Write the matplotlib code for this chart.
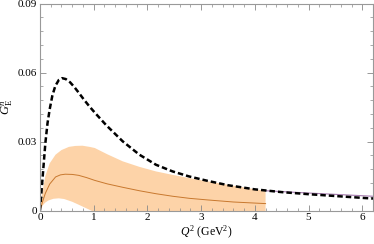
import matplotlib
matplotlib.use("Agg")
import matplotlib.pyplot as plt
import numpy as np
from matplotlib.ticker import MultipleLocator

plt.rcParams['font.family'] = ['Liberation Serif', 'DejaVu Serif']
plt.rcParams['mathtext.fontset'] = 'custom'
plt.rcParams['mathtext.rm'] = 'Liberation Serif'
plt.rcParams['mathtext.it'] = 'Liberation Serif:italic'

# dashed curve
dash_x = [0, 0.02, 0.05, 0.1, 0.14, 0.18, 0.23, 0.285, 0.35, 0.41, 0.48, 0.56, 0.64, 0.72,
          0.82, 0.92, 1.02, 1.23, 1.54, 1.85, 2.16, 2.47, 2.78, 3.12, 3.5, 4.0, 4.5, 5.0,
          5.5, 6.0, 6.2]
dash_y = [0, 0.006, 0.0148, 0.0294, 0.038, 0.044, 0.050, 0.0542, 0.0568, 0.0576, 0.0572,
          0.0558, 0.0537, 0.0513, 0.0482, 0.0453, 0.0426, 0.0372, 0.0301, 0.0243, 0.0199,
          0.0170, 0.0148, 0.0129, 0.0110, 0.0092, 0.0080, 0.0071, 0.0063, 0.0055, 0.0052]

# central curve
center_x = [0, 0.05, 0.1, 0.18, 0.29, 0.38, 0.47, 0.6, 0.72, 0.87, 1.02, 1.25, 1.54, 1.85,
            2.16, 2.47, 2.78, 3.12, 3.6, 4.2]
center_y = [0, 0.004, 0.0075, 0.0115, 0.0146, 0.0155, 0.0158, 0.0157, 0.0153, 0.0143, 0.0131,
            0.0116, 0.0101, 0.0086, 0.0073, 0.0062, 0.0053, 0.0046, 0.0037, 0.0030]

# band edges
upper_x = [0, 0.04, 0.1, 0.18, 0.29, 0.4, 0.54, 0.66, 0.79, 0.92, 1.02, 1.25, 1.54, 1.85,
           2.16, 2.47, 2.78, 3.12, 3.6, 4.2]
upper_y = [0, 0.0075, 0.015, 0.0205, 0.0243, 0.0263, 0.0277, 0.0281, 0.0282, 0.0277, 0.0272,
           0.0245, 0.0214, 0.0190, 0.0170, 0.0155, 0.0141, 0.0127, 0.0108, 0.0085]
lower_x = [0, 0.05, 0.1, 0.16, 0.25, 0.35, 0.45, 0.6, 0.75, 0.95, 1.2, 2.0, 3.0, 4.2]
lower_y = [0, 0.0022, 0.0035, 0.0044, 0.0051, 0.0053, 0.0050, 0.0038, 0.0022, 0.0, -0.003,
           -0.008, -0.012, -0.016]

# purple tail
tail_x = [4.2, 5.0, 6.2]
tail_y = [0.0086, 0.0076, 0.0062]

fig = plt.figure(figsize=(3.74, 2.44), dpi=100)
ax = fig.add_axes([40/374, (244-210.5)/244, (373-40)/374, (210.5-3.7)/244])

ax.fill(list(upper_x) + list(lower_x[::-1]), list(upper_y) + list(lower_y[::-1]),
        color='#FDD3A8', lw=0)
ax.plot(center_x, center_y, color='#C8782E', lw=0.7)
ax.plot(tail_x, tail_y, color='#A57AAE', lw=0.8)
ax.plot(dash_x, dash_y, color='black', lw=1.8, ls=(0, (2.2, 1.2)))

ax.set_xlim(0, 6.2)
ax.set_ylim(0, 0.09)
ax.set_xticks([0, 1, 2, 3, 4, 5, 6])
ax.set_xticklabels(['0', '1', '2', '3', '4', '5', '6'])
ax.set_yticks([0, 0.03, 0.06, 0.09])
ax.set_yticklabels(['0', '0.03', '0.06', '0.09'])
ax.xaxis.set_minor_locator(MultipleLocator(0.2))
ax.yaxis.set_minor_locator(MultipleLocator(0.006))
ax.tick_params(which='both', direction='in', top=True, right=True, color='#888888',
               labelsize=8, pad=2)
ax.tick_params(which='major', length=4, width=0.6)
ax.tick_params(which='minor', length=2, width=0.5)
for s in ax.spines.values():
    s.set_color('#999999')
    s.set_linewidth(0.8)

ax.set_xlabel(r'$Q^2$ (GeV$^2$)', fontsize=8.5, labelpad=1)
ax.set_ylabel(r'$G_{\rm E}^{n}$', fontsize=9, rotation=90, labelpad=2)

fig.savefig('out.png', dpi=100)
